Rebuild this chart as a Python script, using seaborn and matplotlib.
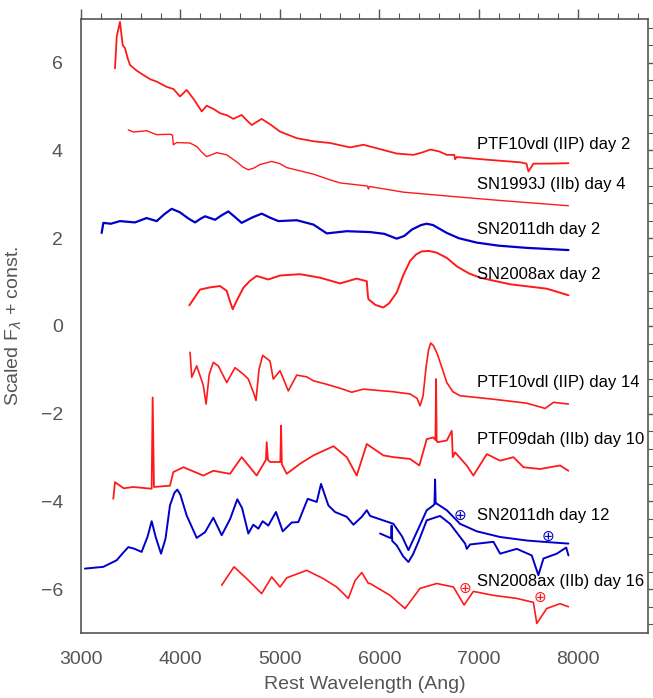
import numpy as np
import pandas as pd
import matplotlib
matplotlib.use("Agg")
import matplotlib.pyplot as plt
import seaborn as sns
from matplotlib.ticker import MultipleLocator

# =============================================================================
# Data, wavelength in Angstrom, scaled flux
# =============================================================================
vdl2_wl = [3342, 3360, 3392, 3420, 3443, 3470, 3493, 3560, 3627, 3700, 3761, 3862, 3930, 3996, 4063,
           4140, 4214, 4264, 4330, 4398, 4470, 4532, 4616, 4670, 4717, 4817, 4900, 5002, 5170, 5338, 5505, 5706,
           5840, 5960, 6175, 6343, 6440, 6511, 6600, 6679, 6755, 6762, 6779, 7081, 7416, 7480, 7500, 7550, 7700, 7902]
vdl2_fx = [5.87, 6.60, 6.93, 6.40, 6.33, 6.10, 5.95, 5.82, 5.72, 5.62, 5.57, 5.45, 5.40, 5.23, 5.38,
           5.15, 4.89, 5.02, 4.95, 4.85, 4.80, 4.72, 4.81, 4.68, 4.58, 4.72, 4.60, 4.43, 4.28, 4.21, 4.17, 4.07,
           4.13, 4.06, 3.93, 3.90, 3.96, 4.02, 3.98, 3.90, 3.90, 3.80, 3.85, 3.79, 3.73, 3.70, 3.52, 3.70, 3.70, 3.71]

j93_wl = [3476, 3527, 3660, 3761, 3895, 3920, 3929, 3962, 4097, 4164, 4220, 4264, 4310, 4365, 4466, 4566, 4630, 4683,
          4740, 4800, 4918, 5000, 5069, 5338, 5505, 5606, 5880, 5891, 5900, 6243, 6746, 7215, 7902]
j93_fx = [4.47, 4.42, 4.45, 4.36, 4.37, 4.35, 4.13, 4.18, 4.17, 4.09, 3.95, 3.86, 3.90, 3.95, 3.90, 3.74, 3.62, 3.56,
          3.60, 3.68, 3.75, 3.70, 3.61, 3.46, 3.33, 3.26, 3.19, 3.12, 3.18, 3.05, 2.95, 2.86, 2.74]

dh2_wl = [3208, 3225, 3300, 3392, 3543, 3660, 3761, 3840, 3912, 3996, 4080, 4147, 4200, 4248, 4348, 4420, 4482, 4550,
          4616, 4720, 4817, 4900, 4985, 5170, 5338, 5472, 5673, 5908, 6050, 6175, 6250, 6330, 6420, 6477, 6540,
          6679, 6800, 6980, 7200, 7483, 7902]
dh2_fx = [2.12, 2.35, 2.33, 2.39, 2.36, 2.46, 2.39, 2.55, 2.67, 2.59, 2.45, 2.36, 2.44, 2.50, 2.42, 2.53, 2.61, 2.48,
          2.35, 2.47, 2.56, 2.47, 2.39, 2.41, 2.31, 2.11, 2.16, 2.14, 2.10, 1.99, 2.05, 2.20, 2.30, 2.33, 2.30,
          2.12, 2.00, 1.90, 1.83, 1.78, 1.73]

ax2_wl = [4090, 4197, 4300, 4398, 4466, 4500, 4526, 4560, 4633, 4700, 4767, 4884, 5002, 5203, 5404, 5606, 5773, 5874,
          5885, 5891, 5960, 6041, 6100, 6175, 6240, 6309, 6370, 6427, 6500, 6578, 6680, 6779, 6900, 7014, 7316, 7684, 7902]
ax2_fx = [0.47, 0.83, 0.88, 0.91, 0.80, 0.55, 0.38, 0.55, 0.87, 1.03, 1.14, 1.06, 1.15, 1.18, 1.10, 0.97, 1.08, 1.02,
          0.70, 0.61, 0.48, 0.42, 0.52, 0.76, 1.15, 1.48, 1.63, 1.70, 1.71, 1.67, 1.55, 1.36, 1.20, 1.10, 0.95, 0.85, 0.70]

vdl14_wl = [4097, 4114, 4164, 4230, 4258, 4290, 4331, 4381, 4466, 4549, 4633, 4683, 4740, 4760, 4790, 4827, 4901, 4934, 5002,
            5085, 5170, 5270, 5338, 5472, 5606, 5723, 5840, 6142, 6309, 6380, 6410, 6440, 6470, 6495, 6517, 6545, 6584,
            6630, 6679, 6740, 6812, 7148, 7483, 7668, 7752, 7902]
vdl14_fx = [-0.60, -1.17, -0.91, -1.35, -1.78, -1.10, -0.83, -0.91, -1.29, -0.95, -1.10, -1.21, -1.55, -1.70, -1.00, -0.67, -0.80, -1.21, -1.02,
            -1.48, -1.12, -1.16, -1.25, -1.33, -1.42, -1.51, -1.44, -1.50, -1.55, -1.65, -1.82, -1.60, -0.95, -0.55, -0.39, -0.45, -0.64,
            -0.95, -1.29, -1.50, -1.59, -1.67, -1.76, -1.88, -1.74, -1.78]

dah_wl = [3325, 3342, 3430, 3526, 3711, 3721, 3734, 3895, 3929, 4030, 4231, 4331, 4499, 4616, 4767,
          4860, 4868, 4880, 4901, 5005, 5012, 5020, 5069, 5203, 5338, 5539, 5673, 5773, 5874, 6041,
          6142, 6309, 6403, 6477, 6544, 6565, 6571, 6577, 6584, 6679, 6729, 6739, 6762, 6879, 6946,
          7081, 7215, 7349, 7450, 7617, 7818, 7902]
dah_fx = [-3.94, -3.56, -3.70, -3.67, -3.71, -1.63, -3.67, -3.64, -3.33, -3.22, -3.41, -3.30, -3.37, -2.99, -3.41,
          -3.05, -2.65, -3.05, -3.10, -3.10, -2.27, -3.15, -3.37, -3.14, -2.95, -2.74, -2.99, -3.41, -2.69, -2.95,
          -2.99, -3.03, -3.18, -2.58, -2.54, -2.60, -1.21, -2.60, -2.65, -2.61, -2.39, -2.99, -2.88, -3.18, -3.41,
          -2.92, -3.07, -2.99, -3.22, -3.26, -3.18, -3.30]

dh12_wl = [3040, 3225, 3359, 3420, 3476, 3540, 3610, 3670, 3711, 3750, 3805, 3850, 3895, 3940, 3969, 4000, 4063, 4164,
           4248, 4331, 4415, 4500, 4572, 4620, 4683, 4733, 4784, 4827, 4884, 4961, 5029, 5119, 5186, 5280, 5371,
           5414, 5488, 5555, 5673, 5740, 5824, 5874, 5908, 6142, 6230, 6293, 6393, 6477, 6544, 6555, 6561, 6567,
           6578, 6679, 6812, 6980, 7215, 7483, 7651, 7902]
dh12_fx = [-5.53, -5.49, -5.34, -5.18, -5.04, -5.08, -5.15, -4.80, -4.45, -4.80, -5.19, -4.85, -4.09, -3.80, -3.73, -3.85, -4.32, -4.83,
           -4.70, -4.37, -4.77, -4.40, -3.95, -4.15, -4.73, -4.53, -4.62, -4.45, -4.55, -4.24, -4.68, -4.48, -4.47, -3.94, -4.01,
           -3.60, -4.09, -4.24, -4.35, -4.53, -4.35, -4.20, -4.33, -4.51, -4.80, -5.11, -4.62, -4.20, -4.09, -4.05, -3.50, -4.05,
           -4.05, -4.20, -4.51, -4.68, -4.81, -4.89, -4.92, -4.96]

# second (red-side) spectrum of SN2011dh at day 12
dh12b_wl = [6008, 6108, 6118, 6124, 6130, 6175, 6240, 6293, 6340, 6393, 6477, 6611, 6712, 6863, 6880, 6913, 7148,
            7215, 7383, 7533, 7600, 7651, 7785, 7880, 7902]
dh12b_fx = [-4.73, -4.83, -4.83, -4.55, -4.90, -5.00, -5.25, -5.38, -5.20, -4.92, -4.43, -4.33, -4.51, -4.96, -5.08, -4.98, -4.92,
            -5.19, -5.08, -5.23, -5.68, -5.30, -5.19, -5.05, -5.23]

ax16_wl = [4415, 4539, 4667, 4817, 4918, 5002, 5069, 5270, 5438, 5572, 5689, 5757, 5824, 5891, 5908,
           6108, 6259, 6410, 6578, 6746, 6853, 6946, 7148, 7383, 7550, 7584, 7684, 7818, 7902]
ax16_fx = [-5.91, -5.49, -5.76, -6.10, -5.72, -5.95, -5.74, -5.57, -5.76, -5.95, -6.21, -5.80, -5.62, -5.87, -5.87,
           -6.14, -6.44, -5.98, -5.87, -5.95, -6.36, -6.05, -6.14, -6.21, -6.30, -6.78, -6.44, -6.33, -6.40]

names = ["PTF10vdl (IIP) day 2", "SN1993J (IIb) day 4", "SN2011dh day 2", "SN2008ax day 2",
         "PTF10vdl (IIP) day 14", "PTF09dah (IIb) day 10", "SN2011dh day 12", "SN2008ax (IIb) day 16"]
label_y = [4.13, 3.22, 2.20, 1.17, -1.28, -2.58, -4.33, -5.83]

# telluric markers
tell_wl = [6813, 7698, 6863, 7617]
tell_fx = [-4.31, -4.80, -5.98, -6.19]

# =============================================================================
# Plot
# =============================================================================
RED = "#ff1a1a"
BLUE = "#0000c8"
GRAY = "#555555"

sns.set_style("white")
plt.rcParams["font.family"] = ["Liberation Sans", "DejaVu Sans"]

fig = plt.figure(figsize=(6.53, 6.98), dpi=100)
ax = fig.add_axes([0.124, 0.093, 0.868, 0.880])

spectra = [
    (vdl2_wl, vdl2_fx, RED, 1.3),
    (j93_wl, j93_fx, RED, 1.0),
    (dh2_wl, dh2_fx, BLUE, 1.6),
    (ax2_wl, ax2_fx, RED, 1.4),
    (vdl14_wl, vdl14_fx, RED, 1.2),
    (dah_wl, dah_fx, RED, 1.3),
    (dh12_wl, dh12_fx, BLUE, 1.4),
    (dh12b_wl, dh12b_fx, BLUE, 1.4),
    (ax16_wl, ax16_fx, RED, 1.2),
]
for wl, fx, col, lw in spectra:
    df = pd.DataFrame({"wl": wl, "flux": fx})
    sns.lineplot(data=df, x="wl", y="flux", color=col, lw=lw, ax=ax,
                 estimator=None, sort=False)

for name, yy in zip(names, label_y):
    ax.text(6985, yy, name, fontsize=12, color="black", va="center", ha="left")

tell_col = [BLUE, BLUE, RED, RED]
for wl, fx, col in zip(tell_wl, tell_fx, tell_col):
    ax.text(wl, fx, "\u2295", color=col, fontsize=11, ha="center", va="center",
            family=["DejaVu Sans"])

ax.set_xlim(3000, 8700)
ax.set_ylim(-7, 7)
ax.xaxis.set_major_locator(MultipleLocator(1000))
ax.xaxis.set_minor_locator(MultipleLocator(200))
ax.yaxis.set_major_locator(MultipleLocator(2))
ax.yaxis.set_minor_locator(MultipleLocator(0.4))
ax.tick_params(which="both", direction="out", top=True, right=True, color=GRAY,
               labelcolor=GRAY, labelsize=14, labeltop=False, labelright=False)
ax.tick_params(which="major", length=7, width=1.0, pad=6)
ax.tick_params(which="minor", length=4, width=0.8)
for sp in ax.spines.values():
    sp.set_color(GRAY)
    sp.set_linewidth(1.2)

ax.set_xlabel("Rest Wavelength (Ang)", fontsize=14, color=GRAY, labelpad=6)
ax.set_ylabel(r"Scaled F$_\lambda$ + const.", fontsize=14, color=GRAY, labelpad=12)

fig.savefig("out.png", dpi=100)
